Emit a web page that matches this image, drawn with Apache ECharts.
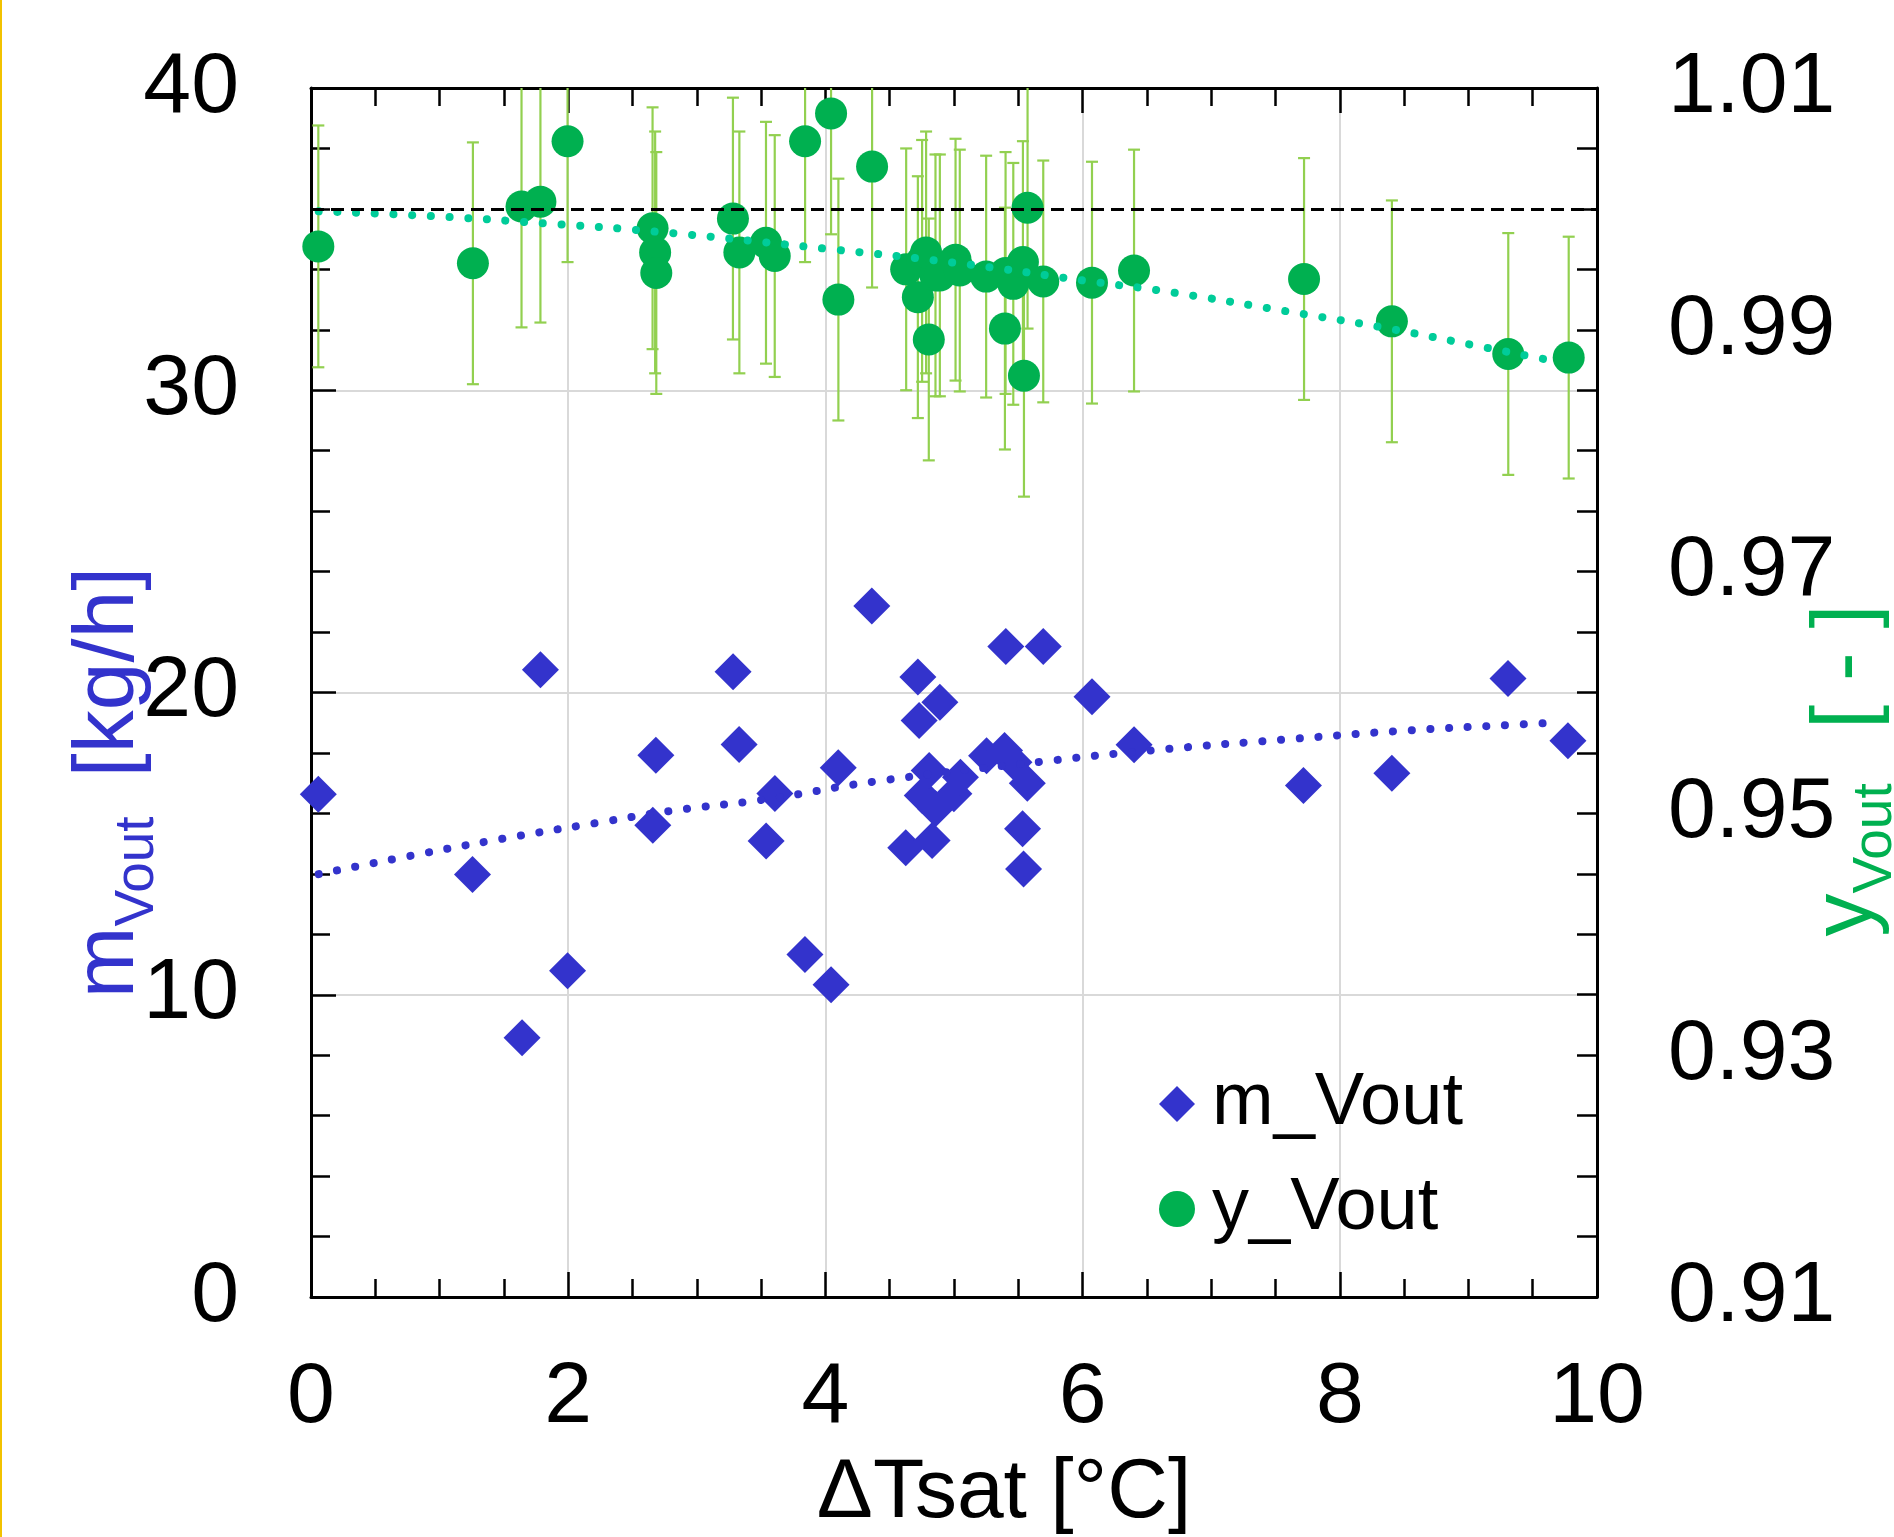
<!DOCTYPE html>
<html>
<head>
<meta charset="utf-8">
<script src="https://cdn.jsdelivr.net/npm/echarts@6.0.0/dist/echarts.min.js"></script>
<style>
  html, body { margin: 0; padding: 0; background: #fff; }
  #chart { width: 1894px; height: 1537px; }
</style>
</head>
<body>
<div id="chart"></div>
<script>
// m_Vout runs: ΔTsat [°C] and mass flow [kg/h]
const mX = [0.057, 1.256, 1.641, 1.784, 1.995, 2.658, 2.682, 3.282, 3.329, 3.539, 3.607, 3.841, 4.044, 4.100,
  4.361, 4.625, 4.719, 4.729, 4.753, 4.807, 4.830, 4.856, 4.890, 4.999, 5.050, 5.253, 5.393, 5.403, 5.466,
  5.533, 5.541, 5.570, 5.694, 6.073, 6.400, 7.717, 8.405, 9.308, 9.774]
const mVout = [16.63, 13.98, 8.58, 20.75, 10.79, 15.61, 17.92, 20.69, 18.28, 15.09, 16.66, 11.33, 10.33, 17.51,
  22.86, 14.86, 20.51, 19.07, 16.59, 17.42, 15.10, 16.15, 19.68, 16.65, 17.20, 17.91, 18.08, 21.52, 17.69,
  15.49, 14.16, 17.00, 21.52, 19.86, 18.27, 16.92, 17.33, 20.46, 18.40]

// y_Vout runs: ΔTsat [°C] and vapour fraction [-]
const yX = [0.057, 1.259, 1.637, 1.784, 1.995, 2.656, 2.676, 2.685, 3.281, 3.331, 3.538, 3.606, 3.842, 4.044,
  4.101, 4.363, 4.628, 4.719, 4.752, 4.783, 4.804, 4.856, 4.890, 5.012, 5.045, 5.250, 5.401, 5.396, 5.461,
  5.536, 5.544, 5.572, 5.694, 6.073, 6.400, 7.722, 8.405, 9.310, 9.780]
const yVout = [0.9969, 0.9955, 1.0002, 1.0006, 1.0056, 0.9984, 0.9964, 0.9947, 0.9992, 0.9964, 0.9972, 0.9961,
  1.0056, 1.0079, 0.9925, 1.0035, 0.9950, 0.9927, 0.9957, 0.9964, 0.9892, 0.9945, 0.9945, 0.9958, 0.9949,
  0.9944, 0.9947, 0.9901, 0.9938, 0.9956, 0.9862, 1.0001, 0.9940, 0.9939, 0.9949, 0.9942, 0.9907, 0.9880,
  0.9877]
const yErr = 0.01 // half width of every error bar

// dotted trend curves
const mFitX = [0.06, 0.78, 1.50, 2.23, 2.81, 3.54, 4.41, 5.72, 6.60, 7.62, 8.51, 9.39, 9.68]
const mFit = [13.99, 14.60, 15.17, 15.69, 16.09, 16.47, 17.07, 17.73, 18.11, 18.46, 18.74, 18.94, 19.00]
const yFitX = [0.06, 0.94, 1.82, 2.70, 4.01, 5.04, 6.06, 6.63, 7.66, 8.38, 9.10, 9.72]
const yFit = [0.9998, 0.9994, 0.9988, 0.9981, 0.9967, 0.9955, 0.9940, 0.9932, 0.9914, 0.9901, 0.9886, 0.9873]

const yRef = 1.0

const xTicks = { min: 0, max: 10, interval: 2 }
const mTicks = { min: 0, max: 40, interval: 10 }
const yTicks = { min: 0.91, max: 1.01, interval: 0.02 }

const font = "'Liberation Sans', Arial, sans-serif"
const black = { color: '#000', width: 3 }
const tickLine = { color: '#000', width: 2.5 }

let zip = (xs, ys) => xs.map((x, i) => [x, ys[i]])
let errData = yX.map((x, i) => [x, yVout[i] - yErr, yVout[i] + yErr])

let myChart = echarts.init(document.getElementById('chart'))
let option = {
  animation: false,
  backgroundColor: '#fff',
  graphic: [{
    type: 'rect',
    left: 0,
    top: 0,
    shape: { width: 2, height: 1537 },
    style: { fill: '#F2C200' }
  }],
  grid: { left: 311, right: 297, top: 88, bottom: 240, containLabel: false, outerBoundsMode: 'none' },
  legend: {
    orient: 'vertical',
    left: 1154,
    top: 1057,
    itemWidth: 36,
    itemHeight: 36,
    itemGap: 21,
    data: ['m_Vout', 'y_Vout'],
    textStyle: { fontFamily: font, fontSize: 74, lineHeight: 84, color: '#000', padding: [0, 0, 0, 12] }
  },
  xAxis: [
    {
      type: 'value',
      position: 'bottom',
      min: xTicks.min,
      max: xTicks.max,
      interval: xTicks.interval,
      axisLine: { show: true, onZero: false, lineStyle: black },
      axisTick: { show: true, inside: true, length: 25, lineStyle: tickLine },
      minorTick: { show: true, splitNumber: 4, length: 18, lineStyle: tickLine },
      splitLine: { show: true, lineStyle: { color: '#D9D9D9', width: 2 } },
      axisLabel: { margin: 58, fontFamily: font, fontSize: 86, color: '#000' },
      name: 'ΔTsat [°C]',
      nameLocation: 'middle',
      nameMoveOverlap: false,
      nameGap: 155,
      nameTextStyle: { fontFamily: font, fontSize: 84, color: '#000', padding: [0, 0, 0, 100] }
    },
    {
      type: 'value',
      position: 'top',
      min: xTicks.min,
      max: xTicks.max,
      interval: xTicks.interval,
      axisLine: { show: true, onZero: false, lineStyle: black },
      axisTick: { show: true, inside: true, length: 25, lineStyle: tickLine },
      minorTick: { show: true, splitNumber: 4, length: 18, lineStyle: tickLine },
      splitLine: { show: false },
      axisLabel: { show: false }
    }
  ],
  yAxis: [
    {
      type: 'value',
      position: 'left',
      min: mTicks.min,
      max: mTicks.max,
      interval: mTicks.interval,
      axisLine: { show: true, onZero: false, lineStyle: black },
      axisTick: { show: true, inside: true, length: 25, lineStyle: tickLine },
      minorTick: { show: true, splitNumber: 5, length: 19, lineStyle: tickLine },
      splitLine: { show: true, lineStyle: { color: '#D9D9D9', width: 2 } },
      axisLabel: { margin: 72, fontFamily: font, fontSize: 86, color: '#000' },
      name: '{m|m}{s|Vout }{u| [kg/h]}',
      nameLocation: 'middle',
      nameMoveOverlap: false,
      nameRotate: 90,
      nameGap: 152,
      nameTextStyle: {
        color: '#3333CC',
        fontFamily: font,
        fontSize: 86,
        padding: [0, 180, 0, 0],
        rich: {
          m: { fontFamily: font, fontSize: 86, lineHeight: 100, color: '#3333CC' },
          s: { fontFamily: font, fontSize: 55, lineHeight: 56, padding: [58, 0, 0, 0], color: '#3333CC' },
          u: { fontFamily: font, fontSize: 86, lineHeight: 100, color: '#3333CC' }
        }
      }
    },
    {
      type: 'value',
      position: 'right',
      min: yTicks.min,
      max: yTicks.max,
      interval: yTicks.interval,
      axisLine: { show: true, onZero: false, lineStyle: black },
      axisTick: { show: true, inside: true, length: 20, lineStyle: tickLine },
      minorTick: { show: true, splitNumber: 4, length: 20, lineStyle: tickLine },
      splitLine: { show: false },
      axisLabel: {
        margin: 71,
        fontFamily: font,
        fontSize: 86,
        color: '#000',
        formatter: function (v) {
          return v.toFixed(2)
        }
      },
      name: '{m|y}{s|Vout  }{u| [ - ]}',
      nameLocation: 'middle',
      nameMoveOverlap: false,
      nameRotate: 90,
      nameGap: 200,
      nameTextStyle: {
        color: '#00B050',
        fontFamily: font,
        fontSize: 86,
        padding: [0, 156, 0, 0],
        rich: {
          m: { fontFamily: font, fontSize: 86, lineHeight: 100, color: '#00B050' },
          s: { fontFamily: font, fontSize: 55, lineHeight: 56, padding: [58, 0, 0, 0], color: '#00B050' },
          u: { fontFamily: font, fontSize: 86, lineHeight: 100, color: '#00B050' }
        }
      }
    }
  ],
  series: [
    {
      name: 'errors',
      type: 'custom',
      xAxisIndex: 0,
      yAxisIndex: 1,
      clip: true,
      silent: true,
      z: 2,
      encode: { x: 0, y: [1, 2] },
      renderItem: function (params, api) {
        let x = api.value(0)
        let lo = api.coord([x, api.value(1)])
        let hi = api.coord([x, api.value(2)])
        let cap = 6
        let style = { stroke: '#92D050', lineWidth: 2.2 }
        return {
          type: 'group',
          children: [
            { type: 'line', shape: { x1: hi[0], y1: hi[1], x2: lo[0], y2: lo[1] }, style: style },
            { type: 'line', shape: { x1: hi[0] - cap, y1: hi[1], x2: hi[0] + cap, y2: hi[1] }, style: style },
            { type: 'line', shape: { x1: lo[0] - cap, y1: lo[1], x2: lo[0] + cap, y2: lo[1] }, style: style }
          ]
        }
      },
      data: errData
    },
    {
      name: 'y_Vout',
      type: 'scatter',
      xAxisIndex: 0,
      yAxisIndex: 1,
      symbol: 'circle',
      symbolSize: 32,
      z: 3,
      itemStyle: { color: '#00B050', opacity: 1 },
      markLine: {
        silent: true,
        symbol: 'none',
        z: 6,
        label: { show: false },
        lineStyle: { color: '#000', width: 3, type: [13, 7] },
        data: [{ yAxis: yRef }]
      },
      data: zip(yX, yVout)
    },
    {
      name: 'm_Vout',
      type: 'scatter',
      xAxisIndex: 0,
      yAxisIndex: 0,
      symbol: 'diamond',
      symbolSize: 37,
      z: 3,
      itemStyle: { color: '#3333CC', opacity: 1 },
      data: zip(mX, mVout)
    },
    {
      name: 'y fit',
      type: 'line',
      xAxisIndex: 0,
      yAxisIndex: 1,
      smooth: true,
      showSymbol: false,
      silent: true,
      z: 5,
      lineStyle: { color: '#00CC99', width: 8, type: [0.1, 18.6], cap: 'round' },
      data: zip(yFitX, yFit)
    },
    {
      name: 'm fit',
      type: 'line',
      xAxisIndex: 0,
      yAxisIndex: 0,
      smooth: true,
      showSymbol: false,
      silent: true,
      z: 5,
      lineStyle: { color: '#3333CC', width: 8, type: [0.1, 18.6], cap: 'round' },
      data: zip(mFitX, mFit)
    }
  ]
}
myChart.setOption(option)
</script>
</body>
</html>
